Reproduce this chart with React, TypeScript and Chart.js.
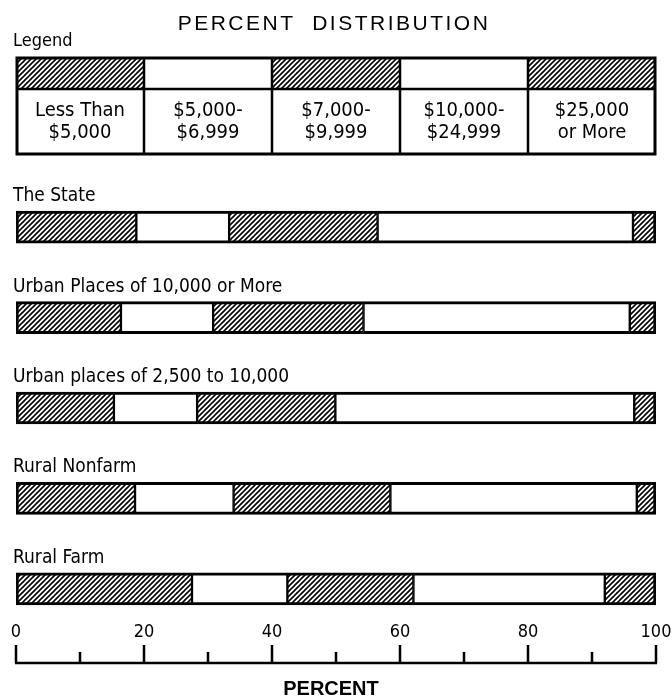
import React, { useEffect, useRef } from "react";
import { Chart, registerables } from "chart.js";

Chart.register(...registerables);

// ---- data ----
const groups = [
  "The State",
  "Urban Places of 10,000 or More",
  "Urban places of 2,500 to 10,000",
  "Rural Nonfarm",
  "Rural Farm",
];
const incomeClasses = [
  ["Less Than", "$5,000"],
  ["$5,000-", "$6,999"],
  ["$7,000-", "$9,999"],
  ["$10,000-", "$24,999"],
  ["$25,000", "or More"],
];
const lessThan5000 = [18.8, 16.4, 15.3, 18.6, 27.5];
const from5000to6999 = [14.5, 14.4, 13.0, 15.4, 14.9];
const from7000to9999 = [23.2, 23.5, 21.6, 24.5, 19.7];
const from10000to24999 = [39.9, 41.6, 46.7, 38.5, 29.9];
const over25000 = [3.6, 4.1, 3.4, 3.0, 8.0];
const majorTicks = [0, 20, 40, 60, 80, 100];
const minorTicks = [10, 30, 50, 70, 90];
const titleText = "PERCENT  DISTRIBUTION";
const legendTitle = "Legend";
const axisTitle = "PERCENT";

const NARROW = '"Liberation Sans Narrow", "DejaVu Sans Condensed", "Roboto Condensed", sans-serif';
const WIDE = '"Liberation Sans", Arial, sans-serif';

function makeHatch(ctx: CanvasRenderingContext2D) {
  const s = 5;
  const c = document.createElement("canvas");
  c.width = s;
  c.height = s;
  const g = c.getContext("2d")!;
  g.fillStyle = "#fff";
  g.fillRect(0, 0, s, s);
  g.strokeStyle = "#000";
  g.lineWidth = 1.6;
  g.beginPath();
  g.moveTo(-1, s + 1);
  g.lineTo(s + 1, -1);
  g.moveTo(-1, 1);
  g.lineTo(1, -1);
  g.moveTo(s - 1, s + 1);
  g.lineTo(s + 1, s - 1);
  g.stroke();
  return ctx.createPattern(c, "repeat")!;
}

export default function App() {
  const ref = useRef<HTMLCanvasElement>(null);

  useEffect(() => {
    const canvas = ref.current!;
    const ctx = canvas.getContext("2d")!;
    const hatch = makeHatch(ctx);
    const series = [lessThan5000, from5000to6999, from7000to9999, from10000to24999, over25000];
    const n = series.length;

    const decorations = {
      id: "decorations",
      afterDraw(chart: any) {
        const c: CanvasRenderingContext2D = chart.ctx;
        const xs = chart.scales.x;
        const ys = chart.scales.y;
        const area = chart.chartArea;
        c.save();
        c.fillStyle = "#000";
        c.strokeStyle = "#000";

        // title
        c.font = `21px ${WIDE}`;
        (c as any).letterSpacing = "2.5px";
        c.textAlign = "center";
        c.textBaseline = "alphabetic";
        c.fillText(titleText, 334, 30);
        (c as any).letterSpacing = "0px";

        // "Legend"
        c.font = `18px ${NARROW}`;
        c.textAlign = "left";
        c.fillText(legendTitle, 13, 46);

        // legend box
        const lx0 = xs.getPixelForValue(0);
        const lx1 = xs.getPixelForValue(100);
        const top = 58, mid = 89, bot = 154;
        for (let i = 0; i < n; i++) {
          const a = xs.getPixelForValue(i * 20);
          const b = xs.getPixelForValue((i + 1) * 20);
          c.fillStyle = i % 2 === 0 ? hatch : "#fff";
          c.fillRect(a, top, b - a, mid - top);
        }
        c.fillStyle = "#000";
        c.lineWidth = 3;
        c.strokeRect(lx0 + 1, top, lx1 - lx0 - 2, bot - top);
        c.lineWidth = 2.5;
        c.beginPath();
        c.moveTo(lx0, mid);
        c.lineTo(lx1, mid);
        for (let i = 1; i < n; i++) {
          const a = xs.getPixelForValue(i * 20);
          c.moveTo(a, top);
          c.lineTo(a, bot);
        }
        c.stroke();
        c.font = `20px ${NARROW}`;
        c.textAlign = "center";
        c.textBaseline = "middle";
        for (let i = 0; i < n; i++) {
          const cx = xs.getPixelForValue(i * 20 + 10);
          c.fillText(incomeClasses[i][0], cx, 111);
          c.fillText(incomeClasses[i][1], cx, 133);
        }

        // group labels
        c.font = `19px ${NARROW}`;
        c.textAlign = "left";
        c.textBaseline = "alphabetic";
        groups.forEach((g, i) => {
          const cy = ys.getPixelForValue(i);
          c.fillText(g, 13, cy - 16 - 10);
        });

        // axis
        const axY = 663;
        c.lineWidth = 2.5;
        c.beginPath();
        c.moveTo(xs.getPixelForValue(0) - 1, axY);
        c.lineTo(xs.getPixelForValue(100) + 1, axY);
        majorTicks.forEach((v) => {
          const x = xs.getPixelForValue(v);
          c.moveTo(x, 645);
          c.lineTo(x, axY);
        });
        minorTicks.forEach((v) => {
          const x = xs.getPixelForValue(v);
          c.moveTo(x, 652);
          c.lineTo(x, axY);
        });
        c.stroke();
        c.font = `18px ${NARROW}`;
        c.textAlign = "center";
        c.textBaseline = "middle";
        majorTicks.forEach((v) => {
          c.fillText(String(v), xs.getPixelForValue(v), 632);
        });
        c.font = `bold 20px ${WIDE}`;
        c.textBaseline = "alphabetic";
        c.fillText(axisTitle, (area.left + area.right) / 2 - 5, 695);
        c.restore();
      },
    };

    const datasets = series.map((d, i) => ({
      label: incomeClasses[i].join(" "),
      data: d,
      backgroundColor: i % 2 === 0 ? hatch : "#ffffff",
      borderColor: "#000",
      borderWidth: {
        top: 3,
        bottom: 3,
        left: i === 0 ? 3 : 1.5,
        right: i === n - 1 ? 3 : 1.5,
      },
      borderSkipped: false,
      barThickness: 32,
    }));

    const chart = new Chart(canvas, {
      type: "bar",
      data: { labels: groups, datasets: datasets as any },
      options: {
        indexAxis: "y",
        responsive: false,
        animation: false,
        devicePixelRatio: 1,
        layout: { padding: { left: 16, right: 16, top: 182, bottom: 65 } },
        scales: {
          x: { stacked: true, min: 0, max: 100, display: false },
          y: { stacked: true, display: false },
        },
        plugins: { legend: { display: false }, title: { display: false }, tooltip: { enabled: false } },
      },
      plugins: [decorations],
    });
    return () => chart.destroy();
  }, []);

  return (
    <div style={{ position: "absolute", left: 0, top: 0, width: 672, height: 699, background: "#fff" }}>
      <canvas ref={ref} width={672} height={699} style={{ display: "block", width: 672, height: 699 }} />
    </div>
  );
}
